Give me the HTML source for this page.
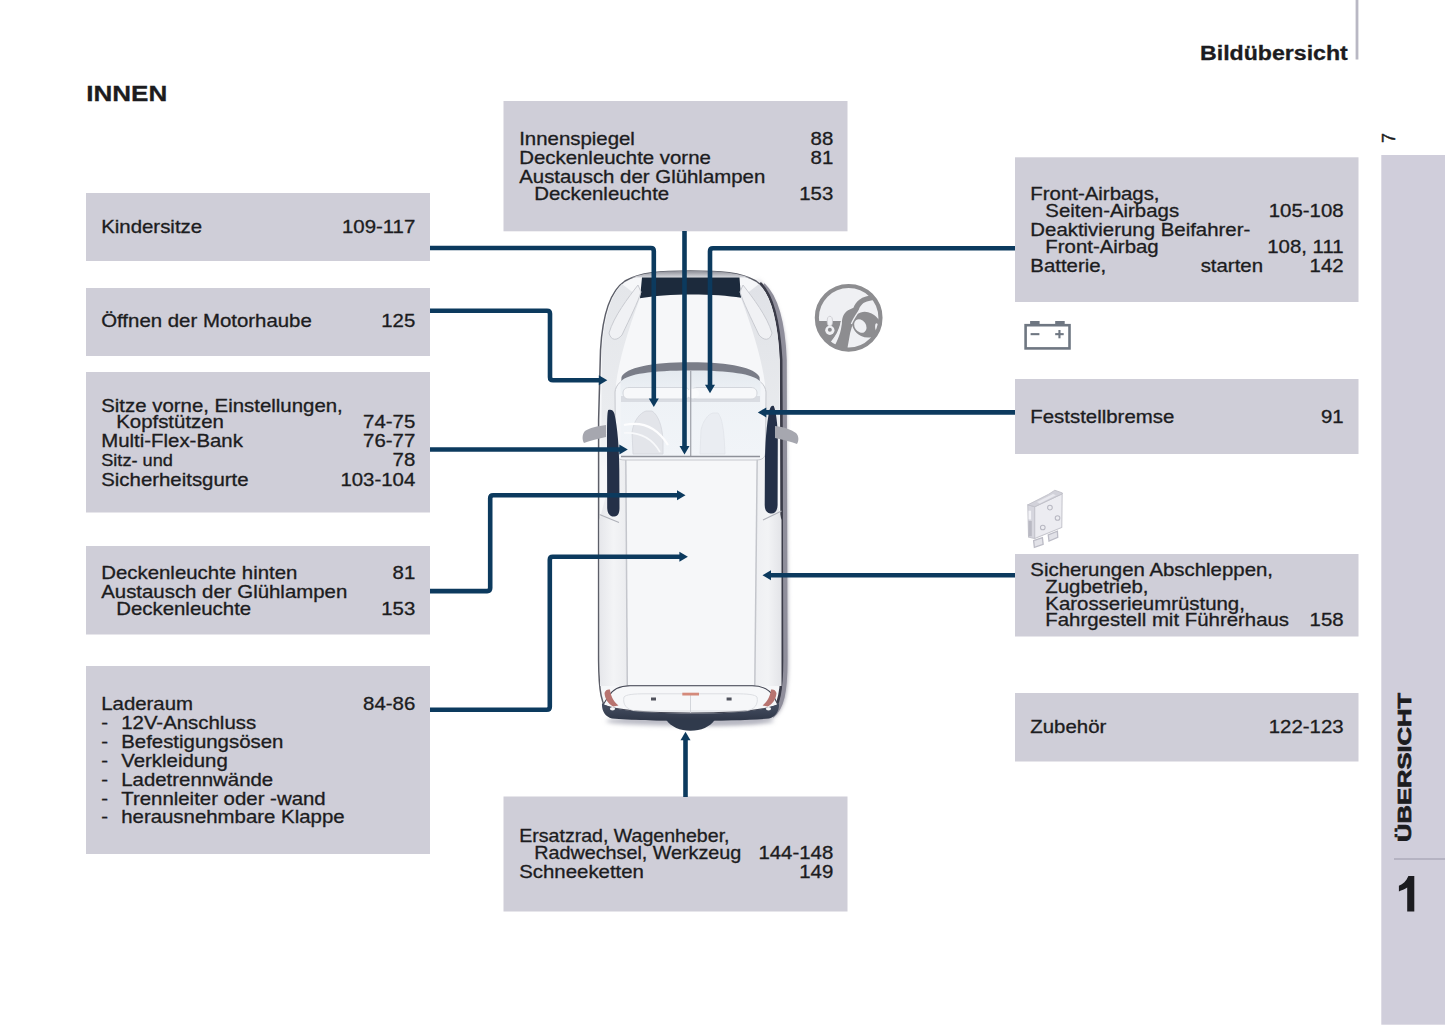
<!DOCTYPE html>
<html><head><meta charset="utf-8"><title>Bildübersicht - Innen</title>
<style>html,body{margin:0;padding:0;background:#fff;width:1445px;height:1026px;overflow:hidden;position:relative}</style>
</head><body>
<svg width="1445" height="1026" viewBox="0 0 1445 1026" style="position:absolute;left:0;top:0;font-family:'Liberation Sans',sans-serif">
<rect x="0" y="0" width="1445" height="1026" fill="#fff"/>
<rect x="86" y="193" width="344" height="68" fill="#cfced8"/>
<rect x="86" y="288" width="344" height="68" fill="#cfced8"/>
<rect x="86" y="372" width="344" height="140.5" fill="#cfced8"/>
<rect x="86" y="546" width="344" height="88.5" fill="#cfced8"/>
<rect x="86" y="666" width="344" height="188" fill="#cfced8"/>
<rect x="503.5" y="101" width="344.0" height="130.3" fill="#cfced8"/>
<rect x="503.5" y="796.5" width="344.0" height="115.0" fill="#cfced8"/>
<rect x="1015" y="157.3" width="343.5" height="144.7" fill="#cfced8"/>
<rect x="1015" y="379" width="343.5" height="75" fill="#cfced8"/>
<rect x="1015" y="554" width="343.5" height="82.5" fill="#cfced8"/>
<rect x="1015" y="693" width="343.5" height="68.5" fill="#cfced8"/>
<rect x="1381.3" y="155" width="63.7" height="869.7" fill="#d0cedb"/>
<rect x="1394" y="858" width="51" height="2" fill="#b5b3c2"/>
<rect x="1355.6" y="0" width="2.8" height="59.5" fill="#b9b8c4"/>
<text transform="translate(86.2 101.4) scale(1.153 1)" text-anchor="start" font-size="22.6" font-weight="bold" fill="#1c1c20" stroke="#1c1c20" stroke-width="0.3">INNEN</text>
<text transform="translate(1347.8 60.3) scale(1.14 1)" text-anchor="end" font-size="20.3" font-weight="bold" fill="#1c1c20" stroke="#1c1c20" stroke-width="0.3">Bildübersicht</text>
<text transform="translate(101.2 233) scale(1.153 1)" text-anchor="start" font-size="17.7" font-weight="normal" fill="#1c1c20" stroke="#1c1c20" stroke-width="0.3">Kindersitze</text>
<text transform="translate(415.3 233) scale(1.153 1)" text-anchor="end" font-size="17.7" font-weight="normal" fill="#1c1c20" stroke="#1c1c20" stroke-width="0.3">109-117</text>
<text transform="translate(101.2 327.3) scale(1.153 1)" text-anchor="start" font-size="17.7" font-weight="normal" fill="#1c1c20" stroke="#1c1c20" stroke-width="0.3">Öffnen der Motorhaube</text>
<text transform="translate(415.3 327.3) scale(1.153 1)" text-anchor="end" font-size="17.7" font-weight="normal" fill="#1c1c20" stroke="#1c1c20" stroke-width="0.3">125</text>
<text transform="translate(101.2 411.5) scale(1.153 1)" text-anchor="start" font-size="17.7" font-weight="normal" fill="#1c1c20" stroke="#1c1c20" stroke-width="0.3">Sitze vorne, Einstellungen,</text>
<text transform="translate(116.2 428.2) scale(1.153 1)" text-anchor="start" font-size="17.7" font-weight="normal" fill="#1c1c20" stroke="#1c1c20" stroke-width="0.3">Kopfstützen</text>
<text transform="translate(415.3 428.2) scale(1.153 1)" text-anchor="end" font-size="17.7" font-weight="normal" fill="#1c1c20" stroke="#1c1c20" stroke-width="0.3">74-75</text>
<text transform="translate(101.2 447.4) scale(1.153 1)" text-anchor="start" font-size="17.7" font-weight="normal" fill="#1c1c20" stroke="#1c1c20" stroke-width="0.3">Multi-Flex-Bank</text>
<text transform="translate(415.3 447.4) scale(1.153 1)" text-anchor="end" font-size="17.7" font-weight="normal" fill="#1c1c20" stroke="#1c1c20" stroke-width="0.3">76-77</text>
<text transform="translate(101.2 466.3) scale(1.075 1)" text-anchor="start" font-size="16.9" font-weight="normal" fill="#1c1c20" stroke="#1c1c20" stroke-width="0.3">Sitz- und</text>
<text transform="translate(415.3 466.4) scale(1.153 1)" text-anchor="end" font-size="17.7" font-weight="normal" fill="#1c1c20" stroke="#1c1c20" stroke-width="0.3">78</text>
<text transform="translate(101.2 485.5) scale(1.153 1)" text-anchor="start" font-size="17.7" font-weight="normal" fill="#1c1c20" stroke="#1c1c20" stroke-width="0.3">Sicherheitsgurte</text>
<text transform="translate(415.3 485.5) scale(1.153 1)" text-anchor="end" font-size="17.7" font-weight="normal" fill="#1c1c20" stroke="#1c1c20" stroke-width="0.3">103-104</text>
<text transform="translate(101.2 578.7) scale(1.153 1)" text-anchor="start" font-size="17.7" font-weight="normal" fill="#1c1c20" stroke="#1c1c20" stroke-width="0.3">Deckenleuchte hinten</text>
<text transform="translate(415.3 578.7) scale(1.153 1)" text-anchor="end" font-size="17.7" font-weight="normal" fill="#1c1c20" stroke="#1c1c20" stroke-width="0.3">81</text>
<text transform="translate(101.2 598) scale(1.153 1)" text-anchor="start" font-size="17.7" font-weight="normal" fill="#1c1c20" stroke="#1c1c20" stroke-width="0.3">Austausch der Glühlampen</text>
<text transform="translate(116.2 614.5) scale(1.153 1)" text-anchor="start" font-size="17.7" font-weight="normal" fill="#1c1c20" stroke="#1c1c20" stroke-width="0.3">Deckenleuchte</text>
<text transform="translate(415.3 614.5) scale(1.153 1)" text-anchor="end" font-size="17.7" font-weight="normal" fill="#1c1c20" stroke="#1c1c20" stroke-width="0.3">153</text>
<text transform="translate(101.2 709.6) scale(1.153 1)" text-anchor="start" font-size="17.7" font-weight="normal" fill="#1c1c20" stroke="#1c1c20" stroke-width="0.3">Laderaum</text>
<text transform="translate(415.3 709.6) scale(1.153 1)" text-anchor="end" font-size="17.7" font-weight="normal" fill="#1c1c20" stroke="#1c1c20" stroke-width="0.3">84-86</text>
<text transform="translate(101.2 728.9) scale(1.153 1)" text-anchor="start" font-size="17.7" font-weight="normal" fill="#1c1c20" stroke="#1c1c20" stroke-width="0.3">-</text>
<text transform="translate(121.2 728.9) scale(1.153 1)" text-anchor="start" font-size="17.7" font-weight="normal" fill="#1c1c20" stroke="#1c1c20" stroke-width="0.3">12V-Anschluss</text>
<text transform="translate(101.2 747.8) scale(1.153 1)" text-anchor="start" font-size="17.7" font-weight="normal" fill="#1c1c20" stroke="#1c1c20" stroke-width="0.3">-</text>
<text transform="translate(121.2 747.8) scale(1.153 1)" text-anchor="start" font-size="17.7" font-weight="normal" fill="#1c1c20" stroke="#1c1c20" stroke-width="0.3">Befestigungsösen</text>
<text transform="translate(101.2 766.6999999999999) scale(1.153 1)" text-anchor="start" font-size="17.7" font-weight="normal" fill="#1c1c20" stroke="#1c1c20" stroke-width="0.3">-</text>
<text transform="translate(121.2 766.6999999999999) scale(1.153 1)" text-anchor="start" font-size="17.7" font-weight="normal" fill="#1c1c20" stroke="#1c1c20" stroke-width="0.3">Verkleidung</text>
<text transform="translate(101.2 785.6) scale(1.153 1)" text-anchor="start" font-size="17.7" font-weight="normal" fill="#1c1c20" stroke="#1c1c20" stroke-width="0.3">-</text>
<text transform="translate(121.2 785.6) scale(1.153 1)" text-anchor="start" font-size="17.7" font-weight="normal" fill="#1c1c20" stroke="#1c1c20" stroke-width="0.3">Ladetrennwände</text>
<text transform="translate(101.2 804.5) scale(1.153 1)" text-anchor="start" font-size="17.7" font-weight="normal" fill="#1c1c20" stroke="#1c1c20" stroke-width="0.3">-</text>
<text transform="translate(121.2 804.5) scale(1.153 1)" text-anchor="start" font-size="17.7" font-weight="normal" fill="#1c1c20" stroke="#1c1c20" stroke-width="0.3">Trennleiter oder -wand</text>
<text transform="translate(101.2 823.4) scale(1.153 1)" text-anchor="start" font-size="17.7" font-weight="normal" fill="#1c1c20" stroke="#1c1c20" stroke-width="0.3">-</text>
<text transform="translate(121.2 823.4) scale(1.153 1)" text-anchor="start" font-size="17.7" font-weight="normal" fill="#1c1c20" stroke="#1c1c20" stroke-width="0.3">herausnehmbare Klappe</text>
<text transform="translate(519.2 144.8) scale(1.153 1)" text-anchor="start" font-size="17.7" font-weight="normal" fill="#1c1c20" stroke="#1c1c20" stroke-width="0.3">Innenspiegel</text>
<text transform="translate(833.3 144.8) scale(1.153 1)" text-anchor="end" font-size="17.7" font-weight="normal" fill="#1c1c20" stroke="#1c1c20" stroke-width="0.3">88</text>
<text transform="translate(519.2 163.7) scale(1.153 1)" text-anchor="start" font-size="17.7" font-weight="normal" fill="#1c1c20" stroke="#1c1c20" stroke-width="0.3">Deckenleuchte vorne</text>
<text transform="translate(833.3 163.7) scale(1.153 1)" text-anchor="end" font-size="17.7" font-weight="normal" fill="#1c1c20" stroke="#1c1c20" stroke-width="0.3">81</text>
<text transform="translate(519.2 182.6) scale(1.153 1)" text-anchor="start" font-size="17.7" font-weight="normal" fill="#1c1c20" stroke="#1c1c20" stroke-width="0.3">Austausch der Glühlampen</text>
<text transform="translate(534.2 200) scale(1.153 1)" text-anchor="start" font-size="17.7" font-weight="normal" fill="#1c1c20" stroke="#1c1c20" stroke-width="0.3">Deckenleuchte</text>
<text transform="translate(833.3 200) scale(1.153 1)" text-anchor="end" font-size="17.7" font-weight="normal" fill="#1c1c20" stroke="#1c1c20" stroke-width="0.3">153</text>
<text transform="translate(519.2 842.3) scale(1.106 1)" text-anchor="start" font-size="17.7" font-weight="normal" fill="#1c1c20" stroke="#1c1c20" stroke-width="0.3">Ersatzrad, Wagenheber,</text>
<text transform="translate(534.2 858.8) scale(1.116 1)" text-anchor="start" font-size="17.7" font-weight="normal" fill="#1c1c20" stroke="#1c1c20" stroke-width="0.3">Radwechsel, Werkzeug</text>
<text transform="translate(833.3 858.8) scale(1.153 1)" text-anchor="end" font-size="17.7" font-weight="normal" fill="#1c1c20" stroke="#1c1c20" stroke-width="0.3">144-148</text>
<text transform="translate(519.2 877.8) scale(1.153 1)" text-anchor="start" font-size="17.7" font-weight="normal" fill="#1c1c20" stroke="#1c1c20" stroke-width="0.3">Schneeketten</text>
<text transform="translate(833.3 877.8) scale(1.153 1)" text-anchor="end" font-size="17.7" font-weight="normal" fill="#1c1c20" stroke="#1c1c20" stroke-width="0.3">149</text>
<text transform="translate(1030.3 200.2) scale(1.153 1)" text-anchor="start" font-size="17.7" font-weight="normal" fill="#1c1c20" stroke="#1c1c20" stroke-width="0.3">Front-Airbags,</text>
<text transform="translate(1045.3 216.7) scale(1.153 1)" text-anchor="start" font-size="17.7" font-weight="normal" fill="#1c1c20" stroke="#1c1c20" stroke-width="0.3">Seiten-Airbags</text>
<text transform="translate(1343.6 216.7) scale(1.153 1)" text-anchor="end" font-size="17.7" font-weight="normal" fill="#1c1c20" stroke="#1c1c20" stroke-width="0.3">105-108</text>
<text transform="translate(1030.3 236.1) scale(1.153 1)" text-anchor="start" font-size="17.7" font-weight="normal" fill="#1c1c20" stroke="#1c1c20" stroke-width="0.3">Deaktivierung Beifahrer-</text>
<text transform="translate(1045.3 253.2) scale(1.153 1)" text-anchor="start" font-size="17.7" font-weight="normal" fill="#1c1c20" stroke="#1c1c20" stroke-width="0.3">Front-Airbag</text>
<text transform="translate(1343.6 253.2) scale(1.153 1)" text-anchor="end" font-size="17.7" font-weight="normal" fill="#1c1c20" stroke="#1c1c20" stroke-width="0.3">108, 111</text>
<text transform="translate(1030.3 272.3) scale(1.153 1)" text-anchor="start" font-size="17.7" font-weight="normal" fill="#1c1c20" stroke="#1c1c20" stroke-width="0.3">Batterie,</text>
<text transform="translate(1263 272.3) scale(1.153 1)" text-anchor="end" font-size="17.7" font-weight="normal" fill="#1c1c20" stroke="#1c1c20" stroke-width="0.3">starten</text>
<text transform="translate(1343.6 272.3) scale(1.153 1)" text-anchor="end" font-size="17.7" font-weight="normal" fill="#1c1c20" stroke="#1c1c20" stroke-width="0.3">142</text>
<text transform="translate(1030.3 422.6) scale(1.153 1)" text-anchor="start" font-size="17.7" font-weight="normal" fill="#1c1c20" stroke="#1c1c20" stroke-width="0.3">Feststellbremse</text>
<text transform="translate(1343.6 422.6) scale(1.153 1)" text-anchor="end" font-size="17.7" font-weight="normal" fill="#1c1c20" stroke="#1c1c20" stroke-width="0.3">91</text>
<text transform="translate(1030.3 575.9) scale(1.153 1)" text-anchor="start" font-size="17.7" font-weight="normal" fill="#1c1c20" stroke="#1c1c20" stroke-width="0.3">Sicherungen Abschleppen,</text>
<text transform="translate(1045.3 592.9) scale(1.153 1)" text-anchor="start" font-size="17.7" font-weight="normal" fill="#1c1c20" stroke="#1c1c20" stroke-width="0.3">Zugbetrieb,</text>
<text transform="translate(1045.3 609.6) scale(1.153 1)" text-anchor="start" font-size="17.7" font-weight="normal" fill="#1c1c20" stroke="#1c1c20" stroke-width="0.3">Karosserieumrüstung,</text>
<text transform="translate(1045.3 626.2) scale(1.153 1)" text-anchor="start" font-size="17.7" font-weight="normal" fill="#1c1c20" stroke="#1c1c20" stroke-width="0.3">Fahrgestell mit Führerhaus</text>
<text transform="translate(1343.6 626.2) scale(1.153 1)" text-anchor="end" font-size="17.7" font-weight="normal" fill="#1c1c20" stroke="#1c1c20" stroke-width="0.3">158</text>
<text transform="translate(1030.3 733) scale(1.153 1)" text-anchor="start" font-size="17.7" font-weight="normal" fill="#1c1c20" stroke="#1c1c20" stroke-width="0.3">Zubehör</text>
<text transform="translate(1343.6 733) scale(1.153 1)" text-anchor="end" font-size="17.7" font-weight="normal" fill="#1c1c20" stroke="#1c1c20" stroke-width="0.3">122-123</text>
<text transform="translate(1411.4 842) rotate(-90) scale(1.36 1)" font-size="18.8" font-weight="bold" fill="#1c1c20" stroke="#1c1c20" stroke-width="0.7">ÜBERSICHT</text>
<path d="M1414.3 876 L1414.3 911.6 L1407.2 911.6 L1407.2 887.6 C1404.6 889.2 1401.6 890.5 1398.9 891.4 L1398.9 885.8 C1403 884.2 1406.3 881 1408.4 876 Z" fill="#1c1c20"/>
<text transform="translate(1395 143) rotate(-90)" font-size="18" fill="#1c1c20" stroke="#1c1c20" stroke-width="0.45">7</text>
<g id="car">
<defs>
<filter id="blur1" x="-50%" y="-50%" width="200%" height="200%"><feGaussianBlur stdDeviation="1.4"/></filter>
<filter id="blur2" x="-50%" y="-50%" width="200%" height="200%"><feGaussianBlur stdDeviation="2"/></filter>
<filter id="blur05" x="-50%" y="-50%" width="200%" height="200%"><feGaussianBlur stdDeviation="0.5"/></filter>
<linearGradient id="topstripe" x1="0" x2="0" y1="0" y2="1">
<stop offset="0" stop-color="#8e9099"/><stop offset="1" stop-color="#d8d9de"/></linearGradient>
<linearGradient id="glass" x1="0" x2="0" y1="0" y2="1">
<stop offset="0" stop-color="#e4e9ef"/><stop offset="0.3" stop-color="#eef2f6"/><stop offset="1" stop-color="#f1f4f8"/></linearGradient>
<linearGradient id="bumperdark" x1="0" x2="0" y1="0" y2="1">
<stop offset="0" stop-color="#485164"/><stop offset="1" stop-color="#2e3647"/></linearGradient>
<linearGradient id="sidepanelL" x1="0" x2="1" y1="0" y2="0">
<stop offset="0" stop-color="#e6e7eb"/><stop offset="0.5" stop-color="#f3f4f6"/><stop offset="1" stop-color="#ebecef"/></linearGradient>
<linearGradient id="sidepanelR" x1="0" x2="1" y1="0" y2="0">
<stop offset="0" stop-color="#eeeff2"/><stop offset="0.5" stop-color="#f2f3f5"/><stop offset="1" stop-color="#e3e4e8"/></linearGradient>
<clipPath id="bodyclip"><path d="M690.5 271 C660 271 640 272.5 625 281 C610 291 602.5 315 600.5 350 L598.6 420 L598.6 660 C598.8 690 601 707 611 714 C624 719.5 650 719.8 690.5 719.8 C731 719.8 757 719.5 770 714 C780 707 782.2 690 782.4 660 L782.4 420 L780.5 350 C778.5 315 771 291 756 281 C741 272.5 721 271 690.5 271 Z"/></clipPath>
<linearGradient id="hoodL" x1="0" x2="0" y1="0" y2="1"><stop offset="0" stop-color="#e4e6ea"/><stop offset="0.7" stop-color="#eaecef"/><stop offset="1" stop-color="#f6f7f9"/></linearGradient>
<linearGradient id="hoodR" x1="0" x2="0" y1="0" y2="1"><stop offset="0" stop-color="#e0e2e7"/><stop offset="0.7" stop-color="#e8eaed"/><stop offset="1" stop-color="#f3f4f6"/></linearGradient>
</defs>
<!-- soft shadow right & bottom -->
<path d="M756 279 C773 290 783 318 785.5 350 L788 660 C788 695 784 712 770 719 C755 724 725 724 690.5 724 L690.5 700 L770 700 L770 300 Z" fill="#9c9ba8" filter="url(#blur2)"/>
<ellipse cx="690" cy="721" rx="84" ry="5" fill="#b9bac4" filter="url(#blur2)"/>
<!-- body -->
<path id="bodyp" d="M690.5 271 C660 271 640 272.5 625 281 C610 291 602.5 315 600.5 350 L598.6 420 L598.6 660 C598.8 690 601 707 611 714 C624 719.5 650 719.8 690.5 719.8 C731 719.8 757 719.5 770 714 C780 707 782.2 690 782.4 660 L782.4 420 L780.5 350 C778.5 315 771 291 756 281 C741 272.5 721 271 690.5 271 Z" fill="#f6f7f9" stroke="#5c5e68" stroke-width="1.5"/>
<!-- right dark outline -->
<path d="M763 285 C776 297 783 322 784.5 360 L785.3 660 C785.3 692 782 708 772 716" fill="none" stroke="#8f8e9b" stroke-width="4.5" filter="url(#blur05)"/>
<path d="M760 283 C772 294 779 320 781.2 360 L782 660 C782 690 779 706 771 713" fill="none" stroke="#3a3b48" stroke-width="2.6"/>
<!-- side panels -->
<path d="M616 458 L625.8 458 L627.5 686 L600 686 L599.5 520 Z" fill="url(#sidepanelL)"/>
<path d="M757 458 L765 458 L781.5 520 L781.5 686 L754.5 686 Z" fill="url(#sidepanelR)"/>
<line x1="625.8" y1="458" x2="627.3" y2="686" stroke="#c4c6cc" stroke-width="1.5"/>
<line x1="757.2" y1="458" x2="754.8" y2="686" stroke="#c4c6cc" stroke-width="1.5"/>
<!-- hood side shading -->
<path d="M622 284 C610 296 604 320 602 350 L601 470 L616 470 L616 384 C619 360 628 330 640 298 Z" fill="url(#hoodL)" />
<path d="M759 284 C771 296 777 320 779 350 L780 470 L765 470 L765 384 C762 360 753 330 741 298 Z" fill="url(#hoodR)"/>
<!-- top stripe + dark front band -->
<path d="M630 271 L751 271 L751 277.5 L630 277.5 Z" fill="url(#topstripe)" clip-path="url(#bodyclip)"/>
<path d="M642 277.5 L739.5 277.5 L741 297.8 C716 293.2 665 293.2 640 298.3 Z" fill="#1c2a3c"/>
<!-- headlights -->
<path d="M638 285 C628 298 614 316 609 333 C611 341 617 341 622 335 C630 318 638 302 641 292 Z" fill="#f0f1f4" stroke="#c9cbd1" stroke-width="1"/>
<path d="M743 285 C753 298 767 316 772 333 C770 341 764 341 759 335 C751 318 743 302 740 292 Z" fill="#f0f1f4" stroke="#c9cbd1" stroke-width="1"/>
<!-- windshield frame -->
<path d="M615 392 C616 378 640 367 690.5 366 C741 367 765 378 766 392 L765.5 452 C765.5 458 762 460 756 460 L625 460 C619 460 615.5 458 615.5 452 Z" fill="#f3f5f8" stroke="#c6c8ce" stroke-width="1"/>
<!-- glass -->
<path d="M620.5 381 C625 373 648 370.5 690.5 370.5 C733 370.5 756 373 760.5 381 L760.3 452 C760.3 455 758 456.5 755 456.5 L626 456.5 C623 456.5 620.7 455 620.7 452 Z" fill="url(#glass)"/>
<!-- arch -->
<path d="M621.5 377 C626 368 650 362.3 690.5 362.3 C731 362.3 755 368 759.5 377 L759.8 381 C753 374 730 370.5 690.5 370.5 C651 370.5 628 374 621.3 381 Z" fill="#7a7d88"/>
<!-- visors -->
<rect x="621" y="396" width="139" height="6" fill="#d9dce2"/>
<path d="M629 387.5 L684 387.5 C688 387.5 690 390 690 393 C690 396.5 688 399 684 399 L629 399 C625 399 623 396.5 623 393 C623 390 625 387.5 629 387.5 Z" fill="#f7f8fa" stroke="#d3d6dc" stroke-width="1"/>
<path d="M697 387.5 L751 387.5 C755 387.5 757 390 757 393 C757 396.5 755 399 751 399 L697 399 C693 399 691 396.5 691 393 C691 390 693 387.5 697 387.5 Z" fill="#f7f8fa" stroke="#d3d6dc" stroke-width="1"/>
<ellipse cx="693" cy="393.5" rx="6" ry="5" fill="#fafbfc"/>
<line x1="690.7" y1="370.5" x2="690.7" y2="456" stroke="#a3a6ae" stroke-width="1.3"/>
<!-- seats (faint) -->
<path d="M633 454 L632 432 C634 420 640 413 646 411 L652 411 C658 415 662 425 663 440 L663 454 Z" fill="#e3e5ea" stroke="#d3d6dc" stroke-width="0.8"/>
<path d="M624 425 C642 421 657 427 668 445" fill="none" stroke="#fdfdfe" stroke-width="2.2"/>
<path d="M624 433 C640 432 652 438 660 452" fill="none" stroke="#f8f9fb" stroke-width="1.6"/>
<path d="M700 454 L701 430 C703 421 708 414 713 413 L718 413 C722 418 724 428 725 454 Z" fill="#eaedf2" stroke="#e0e3e8" stroke-width="0.7"/>
<line x1="621" y1="456.5" x2="760" y2="456.5" stroke="#8e9199" stroke-width="1.4"/>
<!-- side dark window strips -->
<path d="M608.2 410 C607.2 412 607 422 607 440 L607.2 508 C607.4 514 610.4 517 614.4 516.5 C618.2 516 619.5 513 619.5 508 L619.3 470 C619.2 448 617.5 428 614.5 414 C613.5 410.5 611.5 409 608.2 410 Z" fill="#243048"/>
<path d="M773.8 406 C774.8 408 777.5 418 777.8 436 L777.6 505 C777.4 511 774.6 514 770.6 513.5 C766.6 513 764.7 510 764.7 505 L764.9 466 C765 444 766.5 424 769.5 410 C770.5 406.5 772 405 773.8 406 Z" fill="#243048"/>
<path d="M599.5 514.5 L619 522.5" stroke="#aeb0b8" stroke-width="1.1"/>
<path d="M781.5 511 L763 520" stroke="#aeb0b8" stroke-width="1.1"/>
<!-- mirrors -->
<path d="M606 425 C598 426 589 428 585 431 C582 434 582 440 584 443 C589 441 597 439 606 437 Z" fill="#a6a7af"/>
<path d="M775 426 C784 427 792 430 796 433 C799 436 799 441 797 444 C792 442 784 440 775 438 Z" fill="#a6a7af"/>
<!-- roof panel bottom line -->
<line x1="627" y1="685.5" x2="755" y2="685.5" stroke="#b5b7be" stroke-width="1.2"/>
<!-- rear bumper top surface -->
<path d="M608 697 C612 690 620 685.8 630 685.8 L752 685.8 C762 685.8 770 690 774 697 L778 705 C762 711 731 713 690.5 713 C650 713 619 711 603 705 Z" fill="#f6f7f9" stroke="#444754" stroke-width="1.1"/>
<path d="M624 697 C626 694.5 634 693.8 645 693.8 L736 693.8 C747 693.8 755 694.5 757 697 C758.5 704 755 710 745 711 L636 711 C626 710 622.5 704 624 697 Z" fill="none" stroke="#d9dbe0" stroke-width="0.9"/>
<line x1="690.5" y1="694" x2="690.5" y2="713" stroke="#cacdd3" stroke-width="0.8"/>
<!-- dark bumper bottom -->
<path d="M602 703 C609 709.5 640 713.5 690.5 713.5 C741 713.5 772 709.5 779 703 C779.5 711 776 716.5 769 718.5 C752 720.3 722 720.6 690.5 720.6 C659 720.6 629 720.3 612 718.5 C605 716.5 601.5 711 602 703 Z" fill="url(#bumperdark)"/>
<!-- red lights -->
<path d="M604.5 693 C605.5 690 607.5 689 610 689.5 C610.5 695 613 701 618.5 705.5 L613 706.5 C608 703.5 605 699 604.5 693 Z" fill="#b87470"/>
<path d="M776.5 693 C775.5 690 773.5 689 771 689.5 C770.5 695 768 701 762.5 705.5 L768 706.5 C773 703.5 776 699 776.5 693 Z" fill="#b87470"/>
<ellipse cx="612.5" cy="708.8" rx="2.6" ry="1.8" fill="#f4f5f7"/>
<ellipse cx="768.5" cy="708.8" rx="2.6" ry="1.8" fill="#f4f5f7"/>
<rect x="682.3" y="692.7" width="16.7" height="2.8" fill="#d48a7b"/>
<rect x="651" y="697.5" width="5" height="3" fill="#50535d"/>
<rect x="726.6" y="697.5" width="5" height="3" fill="#50535d"/>
<!-- hitch -->
<path d="M666 719.5 L715 719.5 C710 727 701 730.8 690.5 730.8 C680 730.8 671 727 666 719.5 Z" fill="#303a4c"/>
</g>

<path d="M430 248 H650.8 Q653.8 248 653.8 251 V400" fill="none" stroke="#0c3a5e" stroke-width="4.6" stroke-linejoin="round"/>
<polygon points="653.8,407 648.8,398.5 658.8,398.5" fill="#0c3a5e"/>
<path d="M430 310.7 H547 Q550 310.7 550 313.7 V377.2 Q550 380.2 553 380.2 H600" fill="none" stroke="#0c3a5e" stroke-width="4.6" stroke-linejoin="round"/>
<polygon points="607.3,380.2 598.8,375.2 598.8,385.2" fill="#0c3a5e"/>
<path d="M684.5 231 V447" fill="none" stroke="#0c3a5e" stroke-width="4.6" stroke-linejoin="round"/>
<polygon points="684.5,454.5 679.5,446.0 689.5,446.0" fill="#0c3a5e"/>
<path d="M1015 248.2 H713 Q710 248.2 710 251.2 V386" fill="none" stroke="#0c3a5e" stroke-width="4.6" stroke-linejoin="round"/>
<polygon points="710,393.3 705.0,384.8 715.0,384.8" fill="#0c3a5e"/>
<path d="M430 449.5 H621" fill="none" stroke="#0c3a5e" stroke-width="4.6" stroke-linejoin="round"/>
<polygon points="627.8,449.5 619.3,444.5 619.3,454.5" fill="#0c3a5e"/>
<path d="M1015 412.4 H765" fill="none" stroke="#0c3a5e" stroke-width="4.6" stroke-linejoin="round"/>
<polygon points="757.8,412.4 766.3,407.4 766.3,417.4" fill="#0c3a5e"/>
<path d="M430 591.1 H487.2 Q490.2 591.1 490.2 588.1 V498.2 Q490.2 495.2 493.2 495.2 H678" fill="none" stroke="#0c3a5e" stroke-width="4.6" stroke-linejoin="round"/>
<polygon points="685.5,495.2 677.0,490.2 677.0,500.2" fill="#0c3a5e"/>
<path d="M430 709.7 H546.8 Q549.8 709.7 549.8 706.7 V559.7 Q549.8 556.7 552.8 556.7 H681" fill="none" stroke="#0c3a5e" stroke-width="4.6" stroke-linejoin="round"/>
<polygon points="687.9,556.7 679.4,551.7 679.4,561.7" fill="#0c3a5e"/>
<path d="M1015 575.2 H769" fill="none" stroke="#0c3a5e" stroke-width="4.6" stroke-linejoin="round"/>
<polygon points="762.5,575.2 771.0,570.2 771.0,580.2" fill="#0c3a5e"/>
<path d="M685.5 797 V739" fill="none" stroke="#0c3a5e" stroke-width="4.6" stroke-linejoin="round"/>
<polygon points="685.5,731.8 680.5,740.3 690.5,740.3" fill="#0c3a5e"/>
<g id="icons">
<defs><clipPath id="wclip"><circle cx="527" cy="517" r="384"/></clipPath></defs>
<g transform="translate(805 275) scale(0.08285)">
<circle cx="527" cy="517" r="384" fill="#eff0f3"/>
<g clip-path="url(#wclip)" fill="#8d8d90">
<path d="M100 555 L432 555 C425 650 380 740 300 830 L100 950 Z"/>
<path d="M446 560 C452 500 470 460 520 425 L585 395 C598 360 620 325 655 298 C705 262 780 240 850 245 L880 300 C805 300 730 320 690 352 C662 378 648 410 645 445 C605 520 570 600 545 700 L500 950 L300 950 C380 830 440 700 446 560 Z"/>
<ellipse cx="740" cy="600" rx="175" ry="150" transform="rotate(25 740 600)"/>
</g>
<ellipse cx="668" cy="615" rx="68" ry="88" transform="rotate(-35 668 615)" fill="#eff0f3"/>
<path d="M655 428 C620 480 585 530 560 590" fill="none" stroke="#eff0f3" stroke-width="16"/>
<path d="M438 570 C420 660 380 740 312 815" fill="none" stroke="#eff0f3" stroke-width="14"/>
<path d="M850 590 C875 570 890 600 880 650 L858 675 C845 650 842 615 850 590 Z" fill="#eff0f3"/>
<ellipse cx="300" cy="558" rx="32" ry="60" fill="#eff0f3" stroke="#c9c9cd" stroke-width="10"/>
<circle cx="300" cy="668" r="56" fill="#eff0f3"/>
<circle cx="300" cy="660" r="24" fill="#8d8d90"/>
<circle cx="527" cy="517" r="384" fill="none" stroke="#8d8d90" stroke-width="50"/>
</g>
<!-- battery -->
<g fill="#6f7782">
<rect x="1030.1" y="321" width="9.5" height="4"/>
<rect x="1055.2" y="321" width="9.5" height="4"/>
<rect x="1030.6" y="333.1" width="8.8" height="2.1"/>
<rect x="1055.2" y="333.1" width="8.5" height="2.1"/>
<rect x="1058.4" y="330" width="2.1" height="8.3"/>
</g>
<rect x="1025.6" y="325.2" width="43.9" height="23.2" fill="none" stroke="#6f7782" stroke-width="2.6"/>
<!-- fuse -->
<g transform="translate(1015 480) scale(0.0731)">
<path d="M255 830 L375 790 L385 880 L265 920 Z" fill="#e2e2e8" stroke="#bcbcc6" stroke-width="18"/>
<path d="M455 750 L580 700 L585 785 L465 835 Z" fill="#e2e2e8" stroke="#bcbcc6" stroke-width="18"/>
<path d="M175 340 L270 365 L270 800 L185 780 Z" fill="#d6d6de" stroke="#c4c4cc" stroke-width="14"/>
<path d="M270 365 L645 190 L640 650 L270 800 Z" fill="#ececf1" stroke="#c4c4cc" stroke-width="14"/>
<path d="M175 340 L460 195 L545 140 L650 178 L645 190 L270 365 Z" fill="#d2d2da" stroke="#c0c0c8" stroke-width="12"/>
<path d="M300 300 L520 190 L560 210 L340 320 Z" fill="#e8e8ee"/>
<rect x="185" y="420" width="35" height="120" fill="#f2f2f6"/>
<rect x="185" y="560" width="45" height="210" fill="#b9b9c3"/>
<circle cx="478" cy="378" r="32" fill="none" stroke="#b8b8c2" stroke-width="14"/>
<circle cx="582" cy="520" r="32" fill="none" stroke="#b8b8c2" stroke-width="14"/>
<circle cx="380" cy="650" r="32" fill="none" stroke="#b8b8c2" stroke-width="14"/>
</g>
</g>

</svg>
</body></html>
